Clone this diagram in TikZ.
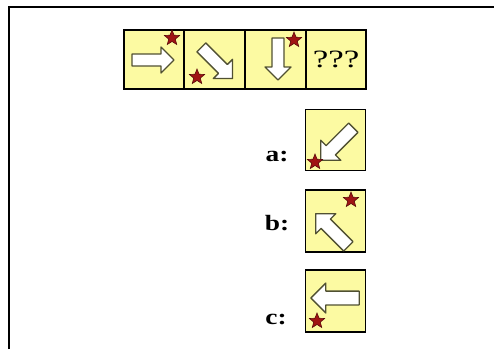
\documentclass[tikz,border=0pt]{standalone}
\usepackage{fontspec}
\setmainfont{Liberation Serif}
\usepackage{tikz}
\usetikzlibrary{shapes.geometric}

\definecolor{cellyellow}{RGB}{252,250,162}
\definecolor{starred}{RGB}{160,20,20}
\definecolor{stardark}{RGB}{90,10,10}
\definecolor{arrowline}{RGB}{80,80,50}

\newcommand{\widetext}[2]{\scalebox{#1}[1]{#2}}

\begin{document}
\begin{tikzpicture}[
x=1bp, y=-1bp,
cell/.style={draw, line width=1.3bp, fill=cellyellow, minimum width=60bp, minimum height=59bp, inner sep=0pt},
optlabel/.style={font=\fontsize{22}{22}\selectfont\bfseries, inner sep=0pt},
redstar/.style={star, star points=5, star point ratio=2.3, fill=starred, draw=stardark, line width=0.6bp, minimum size=16bp, inner sep=0pt},
arrowbody/.style={draw=arrowline, line width=1.3bp, fill=white, line join=round},
blockarrow/.pic={\path[arrowbody] (-21,-6) -- (8,-6) -- (8,-13) -- (21,0) -- (8,13) -- (8,6) -- (-21,6) -- cycle;}
]

\useasboundingbox (0,0) rectangle (494,349);
\draw[line width=2bp] (9,349) -- (9,6.5) -- (494,6.5);

% top row
\node[cell] (c1) at (154,59.5) {};
\node[cell] (c2) at (214.5,59.5) {};
\node[cell] (c3) at (275.5,59.5) {};
\node[cell] (c4) at (336,59.5) {};

\pic at (153,60) {blockarrow};
\pic[rotate=-45, scale=1.05] at (217,63) {blockarrow};
\pic[rotate=-90] at (278,59) {blockarrow};
\node[font=\fontsize{25}{25}\selectfont, inner sep=0pt] (q) at (c4) {\widetext{1.4}{???}};

\node[redstar] (s1) at (172,38) {};
\node[redstar] (s2) at (197,77) {};
\node[redstar] (s3) at (294,40) {};

% answers
\node[cell, minimum height=61bp] (oa) at (335.5,140) {};
\node[cell, minimum height=62bp] (ob) at (335.5,221) {};
\node[cell, minimum height=62bp] (oc) at (335.5,301) {};

\node[optlabel] (la) at (277,157) {\widetext{1.25}{a:}};
\node[optlabel] (lb) at (277,223) {\widetext{1.25}{b:}};
\node[optlabel] (lc) at (276,319) {\widetext{1.25}{c:}};

\pic[rotate=-135, scale=1.1] at (337,144) {blockarrow};
\pic[rotate=135, scale=1.1] at (332,230) {blockarrow};
\pic[rotate=180, scale=1.15] at (335,298) {blockarrow};

\node[redstar] (sa) at (315,162) {};
\node[redstar] (sb) at (351,200) {};
\node[redstar] (sc) at (317,321) {};

\end{tikzpicture}
\end{document}
